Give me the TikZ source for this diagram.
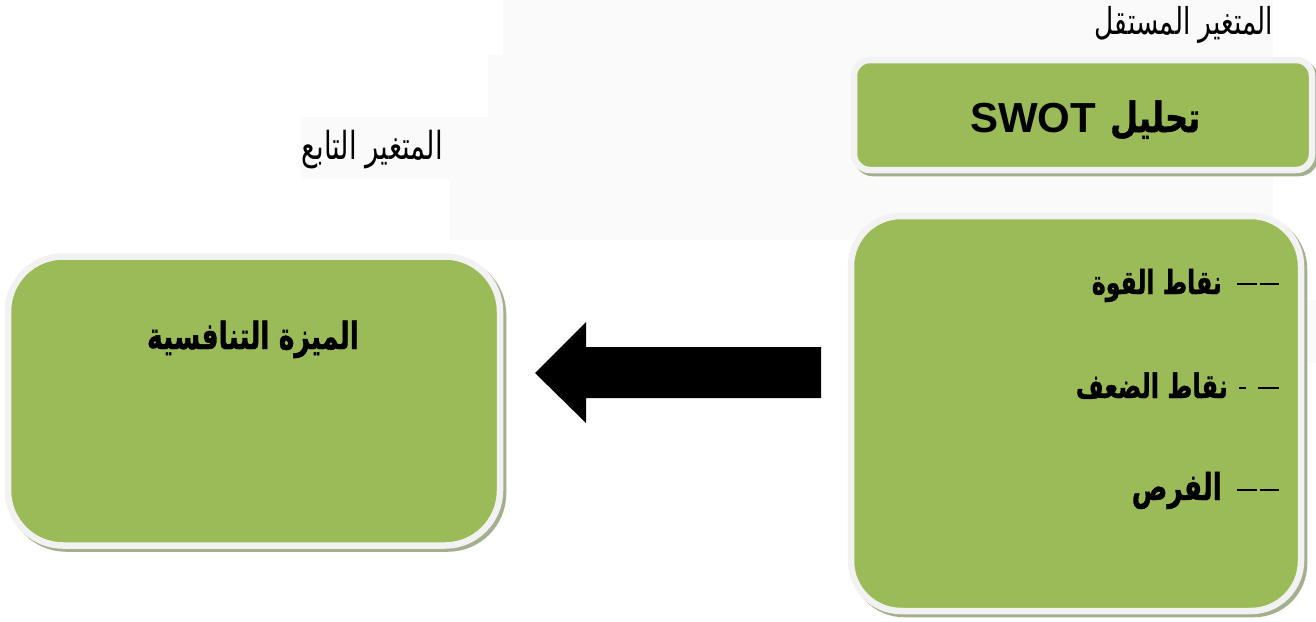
\documentclass[tikz,border=0pt]{standalone}
\usepackage{fontspec}
\usepackage{graphicx}
\setmainfont{Liberation Sans}
\newfontfamily\arabicfont[Script=Arabic, BoldFeatures={FakeBold=1.2}]{DejaVu Sans}
\TeXXeTstate=1
\definecolor{boxgreen}{HTML}{9BBB59}
\definecolor{rimgray}{HTML}{F2F2F2}
\definecolor{shadowcol}{HTML}{A3AF8F}
\definecolor{bggray}{HTML}{FAFAFA}
\newcommand{\dashmark}[1]{\raisebox{9pt}{\rule{#1}{2.4pt}}}
\newcommand{\artext}[2]{\scalebox{1}[1.4]{\resizebox{#1}{!}{#2}}}
\tikzset{
  greenbox/.style={draw=rimgray, line width=6.5pt, fill=boxgreen, inner sep=0pt,
    preaction={draw=shadowcol, fill=shadowcol, line width=6.5pt,
      transform canvas={shift={(3pt,-3pt)}}}},
  labeltext/.style={font=\arabicfont\fontsize{24}{28}\selectfont, inner sep=0pt, text=black},
  itemtext/.style={font=\arabicfont\bfseries\fontsize{26}{30}\selectfont, inner sep=0pt, anchor=base east},
}
\begin{document}
\begin{tikzpicture}[x=1pt,y=-1pt]
\useasboundingbox (0,0) rectangle (1316,621);
\fill[white] (0,0) rectangle (1316,621);
% faint background panels
\fill[bggray] (503,0) -- (1273,0) -- (1273,240) -- (450,240) -- (450,179) -- (301,179)
  -- (301,117) -- (488,117) -- (488,55) -- (503,55) -- cycle;
\fill[bggray] (1307,300) rectangle (1316,363);
% labels
\node[labeltext, anchor=base east] (indep) at (1273,34) {\artext{178pt}{\beginR المتغير المستقل\endR}};
\node[labeltext, anchor=base east] (dep) at (443,159) {\artext{141pt}{\beginR المتغير التابع\endR}};
% boxes
\node[greenbox, rounded corners=16pt, minimum width=458pt, minimum height=110pt] (swot) at (1083,115) {};
\node[font=\bfseries\fontsize{42}{46}\selectfont, inner sep=0pt, anchor=base west] (swottext) at (970,132)
  {SWOT\hspace{14pt}{\arabicfont\scalebox{1}[1.3]{\resizebox{90pt}{!}{\beginR تحليل\endR}}}};
\node[greenbox, rounded corners=50pt, minimum width=450pt, minimum height=395pt] (dims) at (1076,413.5) {};
\node[itemtext] (s) at (1279,294) {\artext{130pt}{\beginR نقاط القوة\endR}\hspace{15pt}\dashmark{20pt}\hspace{3pt}\dashmark{19pt}};
\node[itemtext] (w) at (1279,398) {\artext{152pt}{\beginR نقاط الضعف\endR}\hspace{11pt}\dashmark{7pt}\hspace{12pt}\dashmark{21pt}};
\node[itemtext] (o) at (1279,500) {\artext{90pt}{\beginR الفرص\endR}\hspace{15pt}\dashmark{20pt}\hspace{3pt}\dashmark{19pt}};
\node[greenbox, rounded corners=55pt, minimum width=492pt, minimum height=289pt] (adv) at (254,401) {};
\node[font=\arabicfont\bfseries\fontsize{30}{36}\selectfont, inner sep=0pt, anchor=base] (advtext) at (253,349)
  {\artext{212pt}{\beginR الميزة التنافسية\endR}};
% block arrow
\coordinate (tail) at (821,373);
\coordinate (tip) at (535,373);
\fill[black] (tip) -- ([xshift=51pt,yshift=-50pt]tip) -- ([xshift=51pt,yshift=-25pt]tip)
  -- ([yshift=-25pt]tail) -- ([yshift=26pt]tail) -- ([xshift=51pt,yshift=26pt]tip)
  -- ([xshift=51pt,yshift=51pt]tip) -- cycle;
\end{tikzpicture}
\end{document}
